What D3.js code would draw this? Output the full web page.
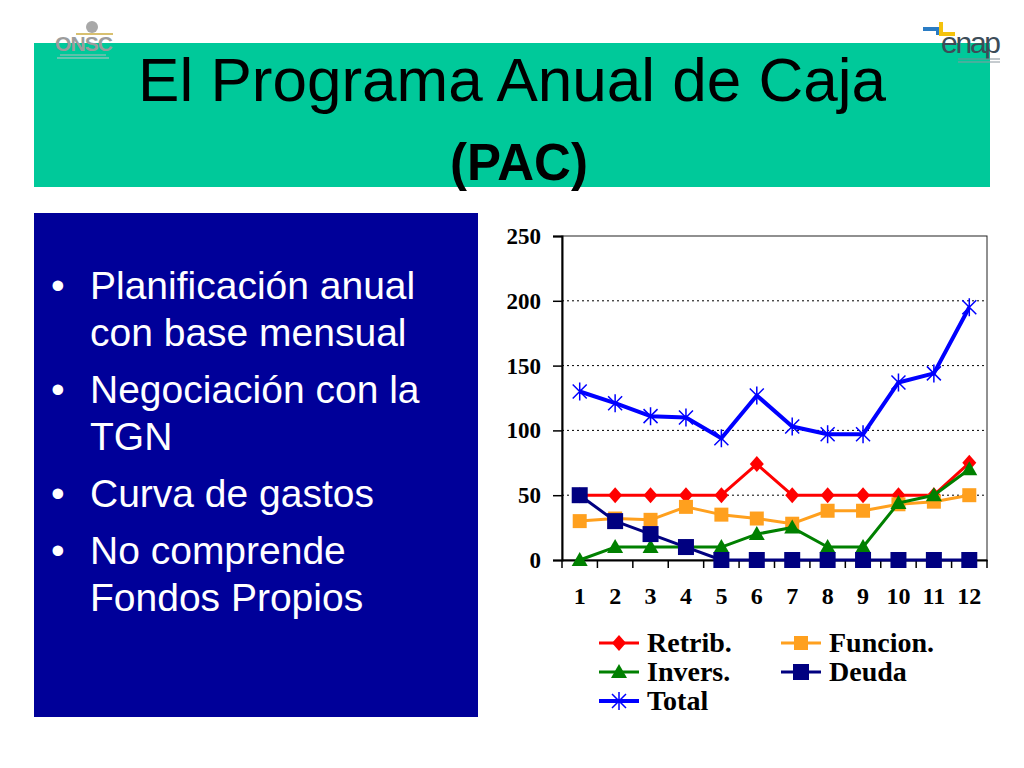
<!DOCTYPE html>
<html>
<head>
<meta charset="utf-8">
<script src="https://cdn.jsdelivr.net/npm/d3@7"></script>
<style>
  body { margin: 0; background: #fff; }
  svg { display: block; }
</style>
</head>
<body>
<div id="slide"></div>
<script>
// chart data
var months = ["1", "2", "3", "4", "5", "6", "7", "8", "9", "10", "11", "12"];
var retrib  = [50, 50, 50, 50, 50, 74, 50, 50, 50, 50, 50, 75];
var funcion = [30, 32, 31, 41, 35, 32, 28, 38, 38, 43, 45, 50];
var invers  = [0, 10, 10, 10, 10, 20, 25, 10, 10, 44, 50, 70];
var deuda   = [50, 30, 20, 10, 0, 0, 0, 0, 0, 0, 0, 0];
var total   = [130, 121, 111, 110, 94, 127, 103, 97, 97, 137, 144, 195];
var yTicks  = [0, 50, 100, 150, 200, 250];

var bullets = [
  ["Planificación anual", "con base mensual"],
  ["Negociación con la", "TGN"],
  ["Curva de gastos"],
  ["No comprende", "Fondos Propios"]
];

var series = [
  {name: "Retrib.",  values: retrib,  color: "#ff0000", marker: "diamond",  width: 3},
  {name: "Funcion.", values: funcion, color: "#ffa01e", marker: "square",   width: 3},
  {name: "Invers.",  values: invers,  color: "#008000", marker: "triangle", width: 3},
  {name: "Deuda",    values: deuda,   color: "#000080", marker: "bigsquare", width: 3},
  {name: "Total",    values: total,   color: "#0000ff", marker: "star",     width: 4}
];

var W = 1024, H = 768;
var svg = d3.select("#slide").append("svg")
    .attr("width", W)
    .attr("height", H);

//header band
svg.append("rect")
    .attr("x", 34).attr("y", 43)
    .attr("width", 956).attr("height", 144)
    .attr("fill", "#00c99a");

svg.append("text")
    .attr("x", 512).attr("y", 101)
    .attr("text-anchor", "middle")
    .style("font-family", "'Liberation Sans', Arial, sans-serif")
    .style("font-size", "62px")
    .attr("fill", "#000")
    .text("El Programa Anual de Caja");

svg.append("text")
    .attr("x", 519).attr("y", 180)
    .attr("text-anchor", "middle")
    .style("font-family", "'Liberation Sans', Arial, sans-serif")
    .style("font-size", "51px")
    .style("font-weight", "bold")
    .attr("fill", "#000")
    .text("(PAC)");

// ONSC logo (rough)
var onsc = svg.append("g").attr("class", "logo-onsc");
onsc.append("circle").attr("cx", 92).attr("cy", 27).attr("r", 6).attr("fill", "#a8a8a8");
onsc.append("line").attr("x1", 76).attr("x2", 113).attr("y1", 34).attr("y2", 34)
    .attr("stroke", "#d8c070").attr("stroke-width", 2);
onsc.append("text")
    .attr("x", 55).attr("y", 51)
    .attr("textLength", 58)
    .style("font-family", "'Liberation Sans', Arial, sans-serif")
    .style("font-size", "21px")
    .style("font-weight", "bold")
    .attr("fill", "#9c9c9c")
    .text("ONSC");
onsc.append("line").attr("x1", 60).attr("x2", 106).attr("y1", 55).attr("y2", 55)
    .attr("stroke", "#b8b8b8").attr("stroke-width", 1);
onsc.append("line").attr("x1", 57).attr("x2", 109).attr("y1", 58).attr("y2", 58)
    .attr("stroke", "#c4c4c4").attr("stroke-width", 1);

// enap logo (rough)
var enap = svg.append("g").attr("class", "logo-enap");
enap.append("path").attr("d", "M923,27 H941 V35 H936 V31 H923 Z").attr("fill", "#2a7cc4");
enap.append("path").attr("d", "M939,22 H943 V32 H955 V36 H939 Z").attr("fill", "#f4c20d");
enap.append("text")
    .attr("x", 941).attr("y", 53)
    .attr("textLength", 60)
    .style("font-family", "'Liberation Sans', Arial, sans-serif")
    .style("font-size", "30px")
    .attr("fill", "#3c4c58")
    .text("enap");
enap.append("line").attr("x1", 958).attr("x2", 1000).attr("y1", 59).attr("y2", 59)
    .attr("stroke", "#7c8a94").attr("stroke-width", 1);
enap.append("line").attr("x1", 958).attr("x2", 1000).attr("y1", 62).attr("y2", 62)
    .attr("stroke", "#8c98a0").attr("stroke-width", 1);

//blue panel with bullets
svg.append("rect")
    .attr("x", 34).attr("y", 213)
    .attr("width", 444).attr("height", 504)
    .attr("fill", "#000099");

var lineY = 299;
var bulletG = svg.append("g").attr("class", "bullets")
    .style("font-family", "'Liberation Sans', Arial, sans-serif")
    .style("font-size", "39px")
    .attr("fill", "#fff");
bullets.forEach(function(b, i) {
  if (i > 0) lineY += 57;
  bulletG.append("text").attr("x", 51).attr("y", lineY).text("•");
  b.forEach(function(t, j) {
    if (j > 0) lineY += 47;
    bulletG.append("text").attr("x", 90).attr("y", lineY).text(t);
  });
});

// chart
var plot = {left: 562, right: 987, top: 236, bottom: 560};

var x = d3.scaleBand()
    .domain(months)
    .range([plot.left, plot.right]);

var y = d3.scaleLinear()
    .domain([0, 250])
    .range([plot.bottom, plot.top]);

var chart = svg.append("g").attr("class", "chart");

chart.append("rect")
    .attr("x", plot.left).attr("y", plot.top)
    .attr("width", plot.right - plot.left)
    .attr("height", plot.bottom - plot.top)
    .attr("fill", "none")
    .attr("stroke", "#222")
    .attr("stroke-width", 1);

chart.selectAll("line.grid")
    .data(yTicks.filter(function(d) { return d > 0 && d < 250; }))
    .enter().append("line")
    .attr("class", "grid")
    .attr("x1", plot.left).attr("x2", plot.right)
    .attr("y1", function(d) { return y(d); })
    .attr("y2", function(d) { return y(d); })
    .attr("stroke", "#000")
    .attr("stroke-width", 1)
    .attr("stroke-dasharray", "2,3");

var yAxis = d3.axisLeft(y).tickValues(yTicks).tickSize(9).tickPadding(12);
var yG = chart.append("g")
    .attr("transform", "translate(" + plot.left + ",0)")
    .call(yAxis);

var xAxis = d3.axisBottom(x).tickSize(0);
var xG = chart.append("g")
    .attr("transform", "translate(0," + plot.bottom + ")")
    .call(xAxis);

// tick marks between the categories
var bounds = months.map(function(m) { return x(m); }).concat([plot.right]);
xG.selectAll("line.sep")
    .data(bounds)
    .enter().append("line")
    .attr("class", "sep")
    .attr("x1", function(d) { return d; })
    .attr("x2", function(d) { return d; })
    .attr("y1", 0).attr("y2", 8)
    .attr("stroke", "#000")
    .attr("stroke-width", 1.5);

[yG, xG].forEach(function(g) {
  g.select(".domain").attr("stroke", "#000").attr("stroke-width", 2);
  g.selectAll(".tick line").attr("stroke", "#000").attr("stroke-width", 1.5);
  g.selectAll(".tick text")
      .attr("fill", "#000")
      .style("font-family", "'Liberation Serif', 'Times New Roman', serif")
      .style("font-size", "23px")
      .style("font-weight", "bold");
});
yG.selectAll(".tick text").attr("dy", "0.33em");
xG.selectAll(".tick text").attr("y", 44).attr("dy", 0).style("font-size", "24px");

function markerPath(kind) {
  if (kind == "diamond") return "M0,-8 L7,0 L0,8 L-7,0 Z";
  if (kind == "square") return "M-7,-7 H7 V7 H-7 Z";
  if (kind == "bigsquare") return "M-8,-8 H8 V8 H-8 Z";
  if (kind == "triangle") return "M0,-8 L8,6 L-8,6 Z";
  return "M-7,-7 L7,7 M-7,7 L7,-7 M0,-9 L0,9";
}

var line = d3.line()
    .x(function(d, i) { return x(months[i]) + x.bandwidth() / 2; })
    .y(function(d) { return y(d); });

series.forEach(function(s) {
  var g = chart.append("g").attr("class", "series");
  g.append("path")
      .datum(s.values)
      .attr("d", line)
      .attr("fill", "none")
      .attr("stroke", s.color)
      .attr("stroke-width", s.width)
      .attr("stroke-linejoin", "round");
  g.selectAll("path.mark")
      .data(s.values)
      .enter().append("path")
      .attr("class", "mark")
      .attr("transform", function(d, i) {
        return "translate(" + (x(months[i]) + x.bandwidth() / 2) + "," + y(d) + ")";
      })
      .attr("d", markerPath(s.marker))
      .attr("fill", s.marker == "star" ? "none" : s.color)
      .attr("stroke", s.color)
      .attr("stroke-width", s.marker == "star" ? 1.5 : 0);
});

//legend
var legendPos = [[599, 643], [781, 643], [599, 672], [781, 672], [599, 701]];
var legend = svg.append("g").attr("class", "legend");
series.forEach(function(s, i) {
  var p = legendPos[i];
  var lg = legend.append("g").attr("transform", "translate(" + p[0] + "," + p[1] + ")");
  lg.append("line")
      .attr("x1", 0).attr("x2", 40)
      .attr("stroke", s.color)
      .attr("stroke-width", s.width);
  lg.append("path")
      .attr("transform", "translate(20,0)")
      .attr("d", markerPath(s.marker))
      .attr("fill", s.marker == "star" ? "none" : s.color)
      .attr("stroke", s.color)
      .attr("stroke-width", s.marker == "star" ? 1.5 : 0);
  lg.append("text")
      .attr("x", 48).attr("y", 9)
      .style("font-family", "'Liberation Serif', 'Times New Roman', serif")
      .style("font-size", "28px")
      .style("font-weight", "bold")
      .attr("fill", "#000")
      .text(s.name);
});
</script>
</body>
</html>
